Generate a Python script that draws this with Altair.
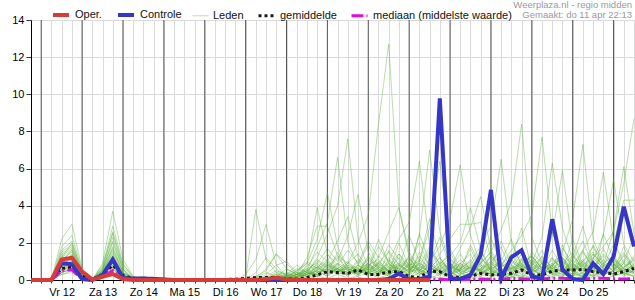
import altair as alt
import pandas as pd

# ---- data (6-hourly steps, step 0 = do 11 apr 18:00) ----
days = ["Vr 12", "Za 13", "Zo 14", "Ma 15", "Di 16", "Wo 17", "Do 18",
        "Vr 19", "Za 20", "Zo 21", "Ma 22", "Di 23", "Wo 24", "Do 25", "Vr 26"]
n_steps = 60

oper = [0, 0, 0, 1.1, 1.2, 0.45, 0.03, 0.18, 0.32, 0.05,
        0, 0, 0, 0, 0, 0, 0, 0, 0, 0,
        0, 0, 0, 0.05, 0.12, 0.03, 0, 0, 0, 0,
        0, 0, 0, 0, 0, 0, 0, 0, 0, 0]

controle = [0, 0, 0, 0.9, 0.85, 0.05, 0, 0.27, 1.1, 0.1,
            0.08, 0.08, 0.06, 0.03, 0, 0, 0, 0, 0, 0,
            0, 0, 0, 0, 0, 0, 0, 0, 0, 0,
            0, 0, 0, 0, 0, 0.05, 0.35, 0.03, 0.05, 0.18,
            9.78, 0.1, 0.05, 0.27, 1.35, 4.85, 0.1, 1.22, 1.6, 0.2,
            0.05, 3.27, 0.57, 0.05, 0, 0.9, 0.32, 1.26, 3.95, 1.8]

gemiddelde = [0, 0, 0.02, 0.62, 0.68, 0.2, 0.05, 0.3, 0.8, 0.25,
              0.08, 0.08, 0.05, 0.03, 0.02, 0.02, 0.02, 0.02, 0.02, 0.03,
              0.04, 0.09, 0.13, 0.13, 0.13, 0.05, 0.05, 0.13, 0.27, 0.45,
              0.4, 0.36, 0.54, 0.3, 0.3, 0.43, 0.45, 0.18, 0.14, 0.48,
              0.45, 0.18, 0.13, 0.2, 0.36, 0.27, 0.3, 0.36, 0.54, 0.27,
              0.27, 0.48, 0.54, 0.54, 0.57, 0.45, 0.4, 0.32, 0.45, 0.63]

mediaan = [0, 0, 0, 0.5, 0.55, 0.05, 0, 0.15, 0.5, 0.05,
           0, 0, 0, 0, 0, 0, 0, 0, 0, 0,
           0, 0, 0, 0, 0, 0, 0, 0, 0, 0.02,
           0.03, 0.02, 0.05, 0.02, 0.02, 0.05, 0.04, 0.02, 0.02, 0.03,
           0.04, 0.02, 0.02, 0.03, 0.05, 0.04, 0.05, 0.08, 0.07, 0.04,
           0.05, 0.1, 0.1, 0.05, 0.05, 0.1, 0.1, 0.05, 0.06, 0.08]

leden = [
    [0,0,0,0.9,1.4,0.3,0,0.3,1.8,0.4, 0.1,0,0,0,0,0,0,0,0,0, 0,0.1,3.8,1.1,0.4,0.1,0,0.2,0.5,1.0,
     0.6,0.2,0.8,1.9,0.7,0.3,0.5,1.2,0.4,0.1, 0.3,0.9,0.2,0,0.4,1.3,0.6,0.2,0.1,0.8, 1.6,0.5,0.2,0.9,0.3,0.1,0.4,1.1,0.6,0.3],
    [0,0,0,1.2,2.0,0.5,0,0.5,2.3,0.6, 0,0.1,0,0,0,0,0,0,0,0, 0,0.3,1.1,3.0,0.8,0.2,0,0.1,0.9,0.4,
     1.5,0.7,0.3,0.6,2.2,0.9,0.4,0.1,0.7,1.8, 0.5,0.2,0.9,1.4,0.3,0.6,2.1,0.8,0.3,0.1, 0.4,0.7,1.9,0.5,0.2,1.2,0.6,0.3,0.9,2.4],
    [0,0,0,0.5,0.8,0.1,0,0.2,1.0,0.1, 0,0,0,0,0,0,0,0,0,0, 0,0,0.4,1.2,0.6,0.2,0.1,0.8,3.9,1.4,
     0.6,0.3,1.0,0.4,0.2,1.6,0.8,0.3,2.5,0.9, 0.4,0.1,0.6,1.7,0.5,0.2,0.3,1.1,2.8,0.6, 0.2,0.9,0.4,0.1,1.5,0.7,0.3,0.5,1.8,0.4],
    [0,0,0,1.5,1.9,0.4,0.1,0.6,2.6,0.8, 0.2,0,0,0,0,0,0,0,0,0, 0,0,0.2,0.5,1.4,0.6,0.3,1.2,2.9,2.9,
     1.3,0.5,0.2,0.8,1.1,0.4,2.0,0.7,0.3,0.6, 1.2,0.5,0.1,0.3,0.9,2.3,0.8,0.4,0.2,1.0, 0.5,2.6,1.1,0.4,0.2,0.6,1.4,0.9,0.3,0.2],
    [0,0,0,0.4,0.6,0.1,0,0.3,1.2,0.2, 0,0,0,0,0,0,0,0,0,0, 0,0,0,0.3,0.8,1.0,0.4,0.9,2.2,4.7,
     1.8,0.6,0.4,1.3,0.5,0.2,0.7,2.4,1.0,0.3, 0.8,1.5,0.4,0.1,0.6,0.3,1.0,2.2,0.7,0.2, 0.9,0.4,0.1,1.2,2.9,0.8,0.3,0.5,1.0,0.6],
    [0,0,0,2.2,3.0,0.6,0.1,0.4,1.5,0.3, 0.1,0.2,0,0,0,0,0,0,0,0, 0,0,0.1,0.6,1.4,0.9,0.3,0.5,1.8,3.1,
     6.6,2.0,0.8,0.3,0.9,1.5,0.5,0.2,1.0,3.3, 1.2,0.4,0.2,0.8,1.6,0.5,0.3,0.1,0.7,1.3, 0.6,0.3,1.7,0.9,0.4,0.2,2.5,1.1,0.4,0.8],
    [0,0,0,1.0,1.6,0.3,0,0.7,2.9,0.9, 0.1,0,0,0,0,0,0,0,0,0, 0,0,0,0.2,0.5,0.3,0.8,0.4,1.2,2.5,
     4.0,7.6,2.2,0.6,0.3,1.1,0.4,0.9,2.0,0.7, 0.3,0.6,1.4,0.5,0.2,0.9,1.8,0.4,0.1,0.6, 1.1,0.3,0.5,2.2,0.8,0.4,0.2,0.7,1.5,0.5],
    [0,0,0,0.7,1.1,0.2,0,0.2,0.6,0.1, 0,0,0,0,0,0,0,0,0,0, 0,0,0,0,0.2,0.6,0.3,0.7,1.5,1.0,
     2.1,3.4,1.2,0.5,0.8,0.3,1.4,0.6,0.2,0.9, 2.3,0.7,0.3,0.5,1.0,0.4,0.2,0.8,1.6,0.5, 0.3,1.2,0.6,0.2,0.4,1.9,0.8,0.3,0.6,1.3],
    [0,0,0,0.6,0.9,0.1,0,0.9,3.7,1.1, 0.2,0,0,0,0,0,0,0,0,0, 0,0,0.1,0.4,0.2,0.1,0.3,0.6,0.9,1.7,
     1.0,2.4,4.6,1.5,0.6,0.2,0.9,0.4,1.3,0.5, 0.2,0.8,0.5,1.9,0.7,0.3,0.6,0.2,1.1,0.9, 0.4,0.1,0.8,0.5,1.6,0.6,0.3,1.0,0.4,0.2],
    [0,0,0,0.3,0.5,0.1,0,0.3,0.8,0.1, 0,0,0,0,0,0,0,0,0,0, 0,0,0,0,0.1,0.3,0.6,0.4,1.1,0.7,
     1.3,0.9,2.0,3.5,8.4,12.7,3.9,1.2,0.5,0.3, 0.7,1.2,0.4,0.2,0.6,1.0,0.3,0.1,0.5,0.8, 0.3,0.6,1.2,0.4,0.2,0.9,0.5,0.3,0.7,1.1],
    [0,0,0,1.3,1.7,0.4,0,0.5,2.0,0.5, 0.1,0,0,0,0,0,0,0,0,0, 0,0,0,0.1,0.3,0.2,0.5,1.0,0.6,1.4,
     0.8,1.6,0.9,2.1,1.2,2.6,3.9,1.5,0.6,1.1, 0.4,0.2,0.9,0.6,1.3,0.5,0.2,0.7,0.4,1.5, 0.9,0.3,0.2,0.6,1.0,0.4,1.7,0.6,0.2,0.5],
    [0,0,0,0.8,1.0,0.2,0,0.4,1.3,0.3, 0,0.1,0,0,0,0,0,0,0,0, 0,0,0,0,0,0.2,0.4,0.3,0.7,1.1,
     0.5,0.9,1.4,0.6,1.8,1.0,2.2,3.1,6.4,1.9, 0.8,0.3,0.6,1.1,0.4,0.2,0.8,1.4,0.6,0.3, 0.2,0.7,0.4,1.3,0.6,0.2,0.5,0.9,0.3,0.6],
    [0,0,0,1.1,1.5,0.3,0,0.6,1.7,0.4, 0.1,0,0,0,0,0,0,0,0,0, 0,0,0.2,0.1,0.4,0.3,0.2,0.5,0.8,0.3,
     0.9,0.6,0.4,1.2,0.7,1.9,1.1,0.6,2.4,7.0, 2.6,0.9,0.4,0.7,1.2,0.5,0.3,0.6,0.9,0.4, 1.3,0.6,0.3,0.2,0.8,1.4,0.5,0.3,0.7,1.0],
    [0,0,0,0.9,1.2,0.2,0,0.1,0.5,0.1, 0,0,0,0,0,0,0,0,0,0, 0,0,0,0,0.2,0.1,0.3,0.2,0.6,1.0,
     0.4,0.8,0.5,0.9,0.3,0.7,1.4,0.8,1.0,2.8, 6.4,1.7,0.6,0.3,0.9,1.5,0.4,0.2,1.1,0.6, 0.3,0.8,1.2,0.5,0.3,0.6,1.1,0.4,0.9,0.3],
    [0,0,0,0.5,0.7,0.1,0,0.3,1.1,0.2, 0,0,0,0,0,0,0,0,0,0, 0,0,0,0.1,0.3,0.1,0.2,0.4,0.3,0.8,
     0.6,0.4,1.1,0.5,0.9,0.4,0.7,1.2,0.5,1.0, 1.8,3.3,6.2,2.4,0.8,0.4,1.2,0.6,0.3,0.9, 0.5,1.6,0.7,0.3,0.2,0.7,0.4,1.2,0.6,0.4],
    [0,0,0,1.4,1.8,0.3,0,0.5,1.4,0.3, 0,0,0,0,0,0,0,0,0,0, 0,0,0,0,0.1,0.2,0.5,0.9,0.4,0.6,
     1.2,0.5,0.3,0.8,0.4,1.0,0.6,0.3,1.5,0.8, 1.4,2.2,3.0,3.0,3.1,1.2,0.5,0.3,0.8,1.3, 0.6,0.3,0.9,1.5,0.5,0.2,0.6,0.9,0.4,0.7],
    [0,0,0,0.6,0.8,0.1,0,0.2,0.9,0.2, 0,0,0,0,0,0,0,0,0,0, 0,0,0,0,0,0.1,0.3,0.6,0.2,0.5,
     0.9,0.3,0.6,0.4,1.0,0.5,1.2,0.7,0.4,1.6, 0.9,1.3,2.0,3.9,1.6,0.6,0.9,0.4,1.2,0.6, 0.3,0.8,0.4,1.1,2.1,0.7,0.3,0.5,1.4,0.8],
    [0,0,0,0.8,1.2,0.2,0,0.8,2.5,0.7, 0.1,0,0,0,0,0,0,0,0,0, 0,0,0,0,0.1,0.2,0.1,0.3,0.7,0.4,
     0.6,1.0,0.4,0.7,0.3,0.9,0.5,1.3,0.8,0.4, 1.0,0.6,1.7,2.8,4.5,1.6,0.7,1.1,0.5,0.3, 0.9,0.4,0.6,0.3,1.0,1.8,0.6,0.2,0.4,0.9],
    [0,0,0,1.6,2.1,0.4,0.1,0.4,1.2,0.2, 0,0,0,0,0,0,0,0,0,0, 0,0,0,0.1,0,0.2,0.4,0.2,0.5,0.9,
     0.3,0.7,0.5,1.1,0.6,0.3,0.8,0.5,1.1,0.7, 0.4,0.9,0.6,1.0,1.8,2.9,6.5,2.0,0.8,0.4, 0.7,1.2,0.5,0.8,0.3,0.6,1.3,0.7,0.3,0.5],
    [0,0,0,0.4,0.6,0.1,0,0.1,0.4,0.1, 0,0,0,0,0,0,0,0,0,0, 0,0,0,0,0,0.1,0.2,0.5,0.3,0.7,
     0.5,0.3,0.8,0.4,0.6,1.2,0.4,0.9,0.6,0.3, 0.8,0.5,1.1,0.6,0.9,1.5,2.7,4.2,8.4,2.3, 0.9,0.5,0.3,0.7,1.1,0.4,0.8,0.5,1.3,0.6],
    [0,0,0,1.0,1.3,0.3,0,0.4,1.0,0.2, 0,0,0,0,0,0,0,0,0,0, 0,0,0,0,0.2,0.4,0.2,0.3,0.6,0.4,
     0.8,0.5,0.3,0.9,0.5,0.4,1.0,0.6,0.3,0.8, 0.5,1.1,0.7,0.4,0.6,1.3,0.8,1.6,2.4,3.5, 7.7,2.6,1.0,0.5,0.9,0.4,0.7,1.2,0.5,0.8],
    [0,0,0,0.7,0.9,0.2,0,0.6,2.1,0.6, 0,0,0,0,0,0,0,0,0,0, 0,0,0,0,0,0.2,0.3,0.5,1.0,0.6,
     0.4,0.9,0.6,0.3,1.3,0.7,0.5,0.3,0.9,0.6, 1.2,0.4,0.8,0.5,0.3,0.7,1.0,0.6,1.4,0.9, 2.3,6.3,2.8,1.1,0.6,1.0,0.4,0.8,0.5,1.2],
    [0,0,0,1.8,2.4,0.5,0,0.3,0.8,0.1, 0,0,0,0,0,0,0,0,0,0, 0,0,0,0,0.1,0,0.2,0.4,0.2,0.9,
     0.5,0.6,0.3,0.7,0.4,0.8,0.6,1.0,0.4,0.7, 0.3,0.6,0.9,0.4,1.2,0.6,0.3,0.8,0.5,1.1, 0.7,2.4,5.9,1.8,0.7,0.4,0.9,1.3,0.6,0.4],
    [0,0,0,0.5,0.8,0.1,0,0.2,0.7,0.1, 0,0,0,0,0,0,0,0,0,0, 0,0,0,0,0,0.1,0.1,0.3,0.5,0.2,
     0.7,0.4,0.6,0.2,0.5,0.9,0.3,0.6,0.8,0.4, 0.6,0.3,0.5,0.9,0.4,0.7,0.5,1.0,0.6,0.8, 1.2,0.7,1.5,3.3,7.3,2.2,0.9,0.5,1.1,0.7],
    [0,0,0,1.2,1.6,0.3,0,0.4,1.1,0.3, 0,0,0,0,0,0,0,0,0,0, 0,0,0,0,0,0.3,0.2,0.1,0.4,0.6,
     0.3,0.5,0.8,0.5,0.3,0.6,0.9,0.4,0.7,0.5, 0.9,0.6,0.3,0.7,0.5,1.0,0.6,0.4,0.9,1.3, 0.6,0.9,1.4,0.8,1.6,2.6,5.8,2.1,0.9,0.5],
    [0,0,0,0.6,0.9,0.2,0,0.5,1.6,0.4, 0,0,0,0,0,0,0,0,0,0, 0,0,0,0,0,0,0.2,0.4,0.7,0.3,
     0.6,0.2,0.5,0.9,0.4,0.7,0.3,0.8,0.5,0.9, 0.4,0.7,0.5,0.3,0.8,0.6,0.4,1.1,0.7,0.5, 1.0,0.6,0.8,1.3,0.7,1.1,2.4,5.4,1.9,1.0],
    [0,0,0,0.9,1.1,0.2,0,0.3,0.9,0.2, 0,0,0,0,0,0,0,0,0,0, 0,0,0,0,0,0.1,0.3,0.2,0.4,0.8,
     0.4,0.7,0.3,0.6,0.9,0.5,0.8,0.4,0.6,0.3, 0.7,0.4,0.6,1.0,0.5,0.3,0.8,0.6,1.0,0.7, 0.4,1.1,0.6,0.9,0.5,1.4,0.8,2.7,6.1,2.5],
    [0,0,0,0.3,0.4,0.1,0,0.2,0.6,0.1, 0,0,0,0,0,0,0,0,0,0, 0,0,0,0,0,0,0.1,0.3,0.5,0.2,
     0.6,0.3,0.7,0.4,0.2,0.6,0.4,0.8,0.5,0.3, 0.6,0.9,0.4,0.7,0.5,0.9,0.4,0.6,0.8,0.5, 0.9,0.6,1.0,0.5,0.8,1.2,1.8,2.6,5.2,8.7],
    [0,0,0,0.7,1.0,0.2,0,0.3,1.3,0.3, 0,0,0,0,0,0,0,0,0,0, 0,0,0,0,0.1,0.2,0.1,0.4,0.3,0.6,
     0.4,0.8,0.5,0.3,0.7,0.5,0.3,0.6,0.9,0.5, 0.3,0.7,0.5,0.8,0.4,0.6,0.9,0.5,0.7,1.1, 0.5,0.8,1.2,0.6,1.0,1.5,0.7,1.9,4.3,4.3],
    [0,0,0,0.4,0.6,0.1,0,0.2,0.7,0.1, 0,0,0,0,0,0,0,0,0,0, 0,0,0,0,0,0,0,0.1,0.2,0.1,
     0.3,0.1,0.2,0.4,0.1,0.3,0.2,0.1,0.4,0.2, 0.1,0.3,0.2,0.1,0.2,0.4,0.1,0.3,0.2,0.1, 0.3,0.2,0.4,0.1,0.2,0.3,0.1,0.2,0.4,0.2],
]

series_names = ["Oper.", "Controle", "Leden", "gemiddelde", "mediaan (middelste waarde)"]
series_colors = ["#d93a3a", "#3535c8", "#5aaf3a", "#1a1a1a", "#dd11dd"]
series_widths = [4, 4, 1, 3, 3]
series_dash = [[1, 0], [1, 0], [1, 0], [3, 3], [12, 3, 2, 3]]
series_opacity = [1, 1, 0.45, 1, 1]

# ---- tables ----
def frame(values, name, member):
    return pd.DataFrame({"i": list(range(len(values))), "v": values,
                         "series": name, "member": member})

df_leden = pd.concat([frame(m, "Leden", f"m{k}") for k, m in enumerate(leden)])
df_oper = frame(oper, "Oper.", "oper")
df_ctrl = frame(controle, "Controle", "ctrl")
df_mean = frame(gemiddelde, "gemiddelde", "mean")
df_med = frame(mediaan, "mediaan (middelste waarde)", "med")

day_df = pd.DataFrame({"i": [1 + 4 * k for k in range(len(days))]})

labels = [""] * n_steps
for k, d in enumerate(days):
    if 3 + 4 * k < n_steps - 1:
        labels[3 + 4 * k] = d
label_expr = "[" + ",".join("'%s'" % s for s in labels) + "][datum.value]"

FONT = "Liberation Sans"

xscale = alt.Scale(domain=[0, n_steps - 1], nice=False, zero=False)
yscale = alt.Scale(domain=[0, 14], nice=False)

xaxis = alt.Axis(values=list(range(n_steps)), grid=True, gridColor="#dadada", gridWidth=1,
                 labelExpr=label_expr, labelOverlap=False, labelFlush=False,
                 labelFontSize=11, labelFont=FONT, labelColor="#000", labelPadding=3,
                 tickSize=3, tickColor="#333", domainColor="#000", title=None)
yaxis = alt.Axis(values=list(range(0, 15, 2)), grid=True, gridColor="#dadada",
                 labelFontSize=11, labelFont=FONT, labelColor="#000", labelPadding=2,
                 tickSize=5, tickColor="#333", domainColor="#000", title=None)

legend = alt.Legend(orient="none", legendX=20, legendY=-15, direction="horizontal",
                    title=None, symbolType="stroke", symbolSize=256,
                    labelFont=FONT, labelFontSize=11, labelColor="#111",
                    labelOffset=4, columnPadding=8, gridAlign="each")

enc = dict(
    x=alt.X("i:Q", scale=xscale, axis=xaxis),
    y=alt.Y("v:Q", scale=yscale, axis=yaxis),
    color=alt.Color("series:N", scale=alt.Scale(type="ordinal", domain=series_names, range=series_colors), legend=legend),
    strokeDash=alt.StrokeDash("series:N", scale=alt.Scale(type="ordinal", domain=series_names, range=series_dash), legend=legend),
    strokeWidth=alt.StrokeWidth("series:N", scale=alt.Scale(type="ordinal", domain=series_names, range=series_widths), legend=legend),
    opacity=alt.Opacity("series:N", scale=alt.Scale(type="ordinal", domain=series_names, range=series_opacity), legend=legend),
    detail="member:N",
)

def line(df):
    return alt.Chart(df).mark_line(strokeCap="butt", strokeJoin="miter").encode(**enc)

day_rules = alt.Chart(day_df).mark_rule(color="#555555", strokeWidth=1).encode(
    x=alt.X("i:Q", scale=xscale, axis=xaxis))

chart = alt.layer(
    day_rules, line(df_leden), line(df_mean), line(df_med), line(df_ctrl), line(df_oper)
).properties(
    width=603, height=260,
    padding={"left": 31, "top": 20, "right": 1, "bottom": 20},
    autosize=alt.AutoSizeParams(type="none"),
    title=alt.TitleParams(["Weerplaza.nl - regio midden", "Gemaakt: do 11 apr 22:13"],
                          anchor="end", align="right", font=FONT, fontSize=9.5,
                          fontWeight="normal", color="#9a9a9a", lineHeight=9.5,
                          offset=2, dx=-2, dy=16, frame="group"),
).configure_view(stroke="#000", strokeWidth=1).configure(background="white")

chart.save("out.html", embed_options={"renderer": "svg", "actions": False})
